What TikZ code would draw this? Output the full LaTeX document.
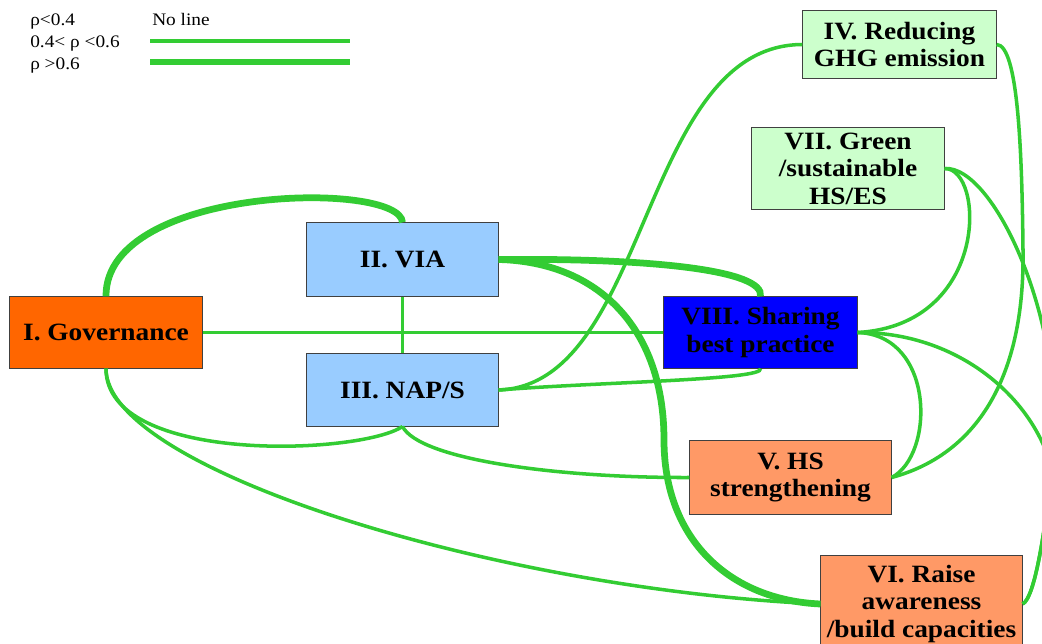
\documentclass[tikz,border=0pt]{standalone}
\usepackage{fontspec}
\setmainfont{Liberation Serif}[FakeStretch=1.1]
\definecolor{linkgreen}{HTML}{33CC33}
\definecolor{govorange}{HTML}{FF6600}
\definecolor{paleblue}{HTML}{99CCFF}
\definecolor{palegreen}{HTML}{CCFFCC}
\definecolor{salmon}{HTML}{FF9966}
\begin{document}
\begin{tikzpicture}[x=0.025cm, y=-0.025cm,
		box/.style={draw=black!75, line width=0.7pt, align=center, inner sep=0pt,
			font=\bfseries\fontsize{17.7}{19.5}\selectfont},
		weak/.style={draw=linkgreen, line width=2.5pt},
		strong/.style={draw=linkgreen, line width=4.8pt},
		legend/.style={anchor=base west, inner sep=0pt, font=\fontsize{12.5}{14}\selectfont}]
		\useasboundingbox (0,0) rectangle (1042,644);
		\clip (0,0) rectangle (1042,644);

		% Legend
		\node[legend] (lowrho)  at (30,26)  {ρ<0.4};
		\node[legend] (midrho)  at (30,48)  {0.4< ρ <0.6};
		\node[legend] (highrho) at (30,70)  {ρ >0.6};
		\node[legend] (noline)  at (152,26) {No line};
		\coordinate (midA)  at (150,41);
		\coordinate (midB)  at (350,41);
		\coordinate (highA) at (150,62);
		\coordinate (highB) at (350,62);
		\draw[weak]   (midA)  -- (midB);
		\draw[strong] (highA) -- (highB);

		% Boxes
		\node[box, fill=govorange, minimum width=4.8cm, minimum height=1.78cm] (gov) at (106,332.5) {I. Governance};
		\node[box, fill=paleblue, minimum width=4.78cm, minimum height=1.83cm] (via) at (402.5,259.5) {II. VIA};
		\node[box, fill=paleblue, minimum width=4.78cm, minimum height=1.8cm] (nap) at (402.5,390) {III. NAP/S};
		\node[box, fill=palegreen, minimum width=4.83cm, minimum height=1.68cm] (ghg) at (899.5,44.5) {IV. Reducing\\GHG emission};
		\node[box, fill=salmon, minimum width=5.03cm, minimum height=1.83cm] (hs) at (790.5,477.5) {V. HS\\strengthening};
		\node[box, fill=salmon, minimum width=5.03cm, minimum height=2.4cm] (aware) at (921.5,604) {VI. Raise\\awareness\\/build capacities};
		\node[box, fill=palegreen, minimum width=4.8cm, minimum height=2.03cm] (green) at (848,168.5) {VII. Green\\/sustainable\\HS/ES};
		\node[box, fill=blue, minimum width=4.83cm, minimum height=1.78cm] (share) at (760.5,332.5) {VIII. Sharing\\best practice};

		% Strong links (rho > 0.6)
		\coordinate (drop) at (664,440);
		\draw[strong] (gov.north) .. controls (105,185) and (400,180) .. (via.north);
		\draw[strong] (via.east) .. controls (650,258) and (765,270) .. (share.north);
		\draw[strong] (via.east) .. controls (600,262) and (664,330) .. (drop)
			.. controls (664,540) and (730,600) .. (aware.west);

		% Weak links (0.4 < rho < 0.6)
		\draw[weak] (gov.east) -- (share.west);
		\draw[weak] (via.south) -- (nap.north);
		\draw[weak] (nap.east) .. controls (650,385) and (640,45) .. (ghg.west);
		\draw[weak] (nap.east) .. controls (600,382) and (765,380) .. (share.south);
		\draw[weak] (nap.south) .. controls (420,460) and (560,478) .. (hs.west);
		\draw[weak] (nap.south) .. controls (360,455) and (106,465) .. (gov.south);
		\draw[weak] (gov.south) .. controls (106,470) and (500,590) .. (aware.west);
		\draw[weak] (share.east) .. controls (935,335) and (935,455) .. (hs.east);
		\draw[weak] (green.east) .. controls (985,168) and (990,325) .. (share.east);

		% Links running along the right edge
		\coordinate (bend) at (1023,250);
		\coordinate (offside) at (1052,470);
		\draw[weak] (ghg.east) .. controls (1018,45) and (1022,150) .. (bend)
			.. controls (1025,380) and (975,455) .. (hs.east);
		\draw[weak] (green.east) .. controls (995,165) and (1070,330) .. (offside)
			.. controls (1045,530) and (1035,598) .. (aware.east);
		\draw[weak] (share.east) .. controls (960,332) and (1035,400) .. (offside)
			.. controls (1045,530) and (1035,598) .. (aware.east);
	\end{tikzpicture}
\end{document}
